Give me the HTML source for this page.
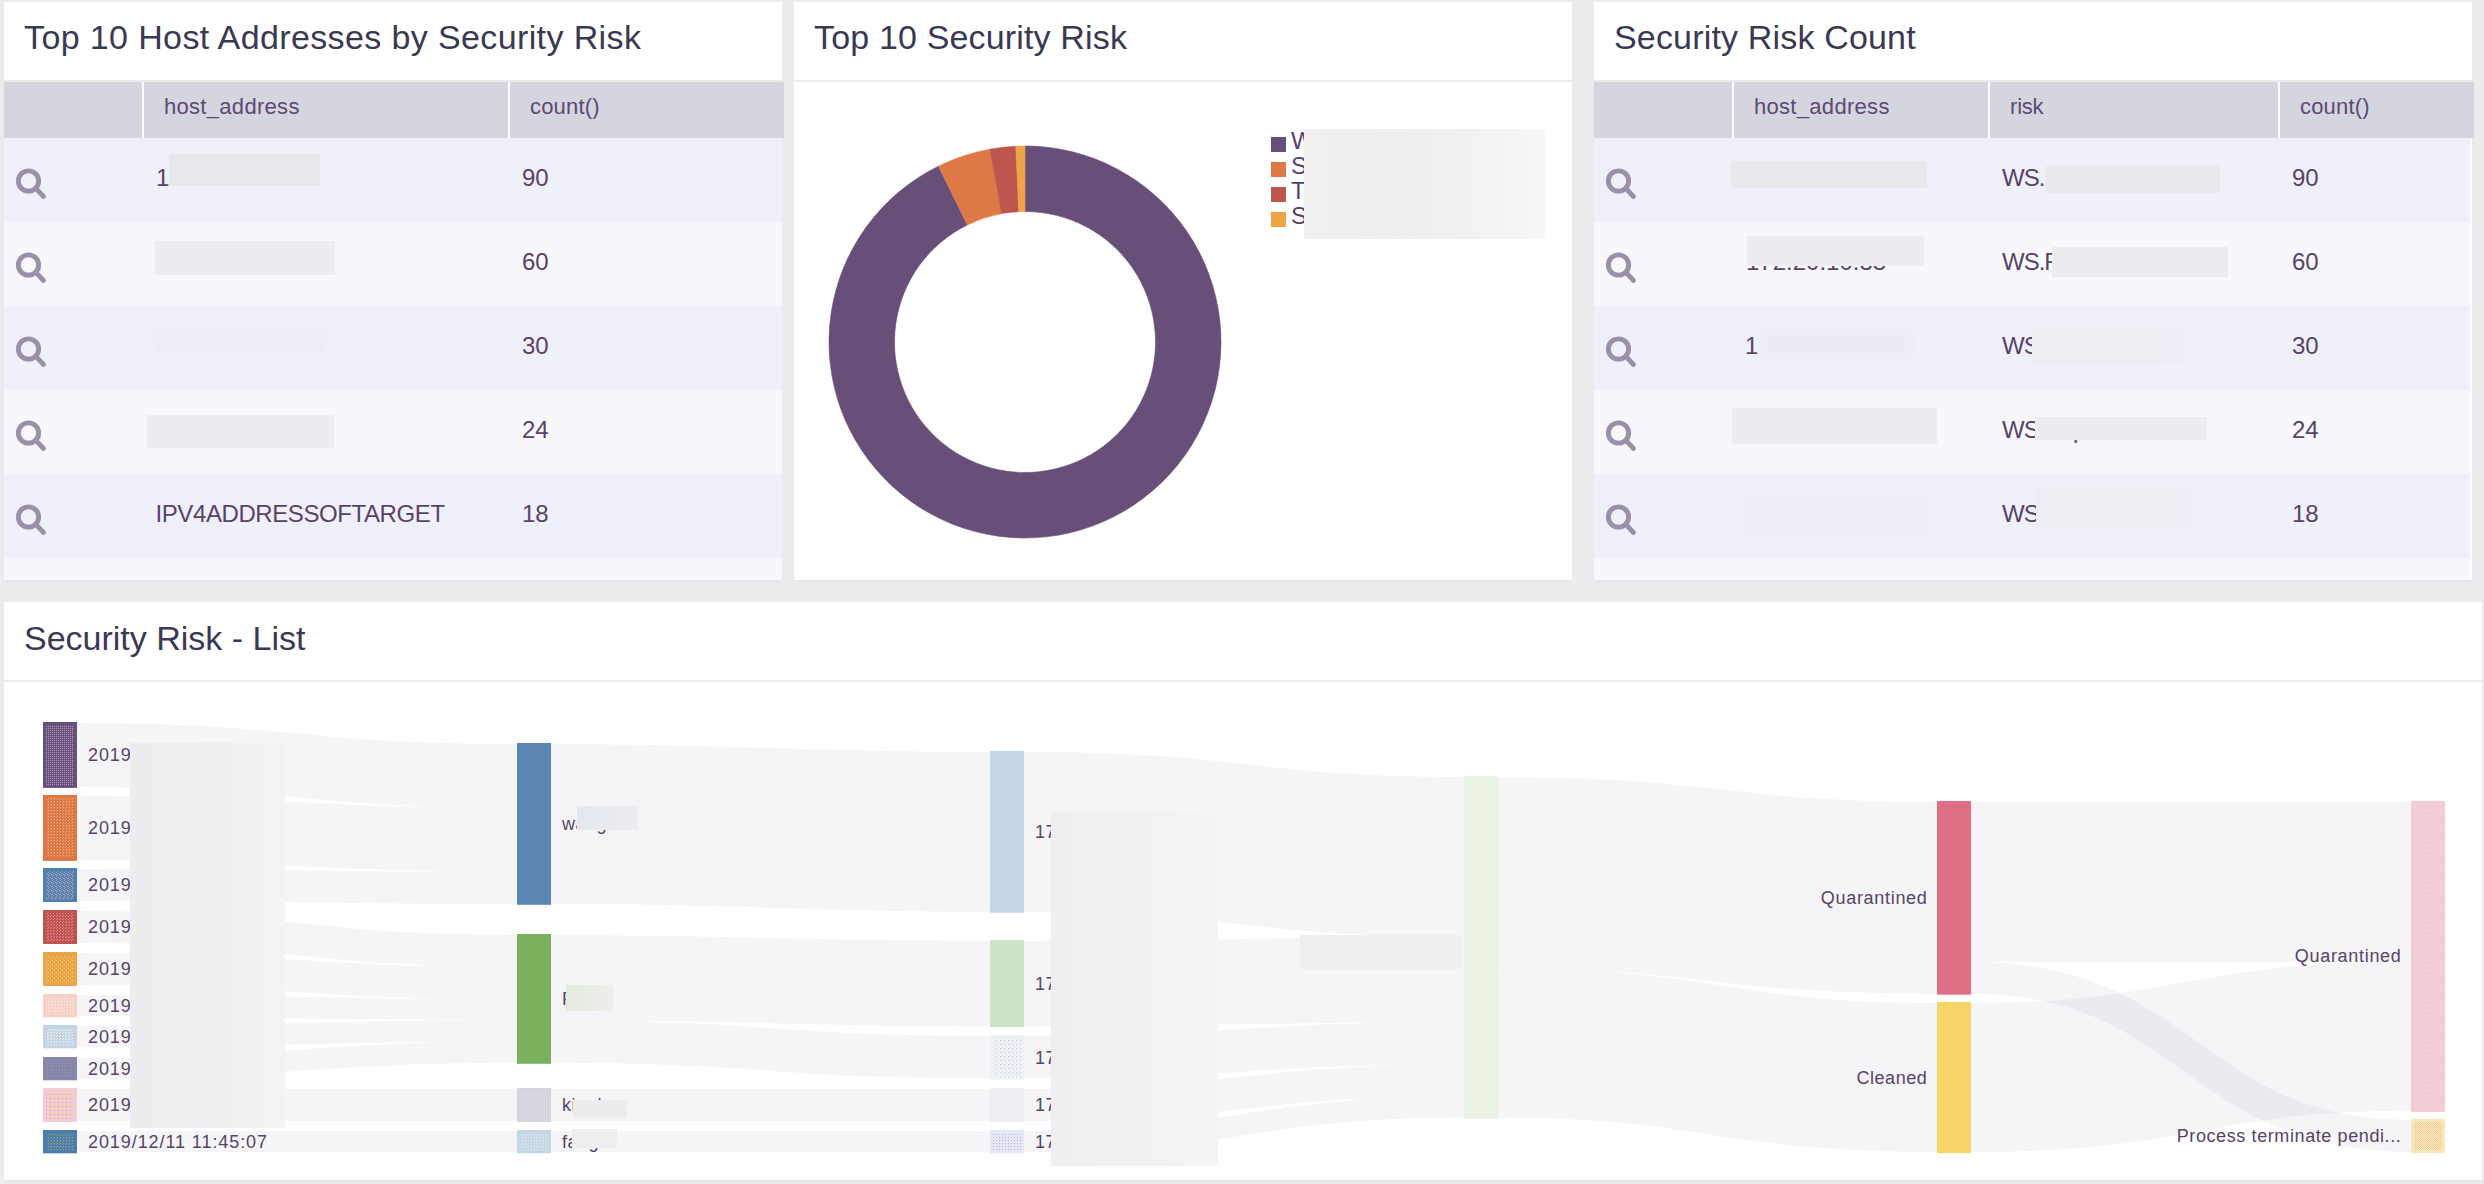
<!DOCTYPE html>
<html lang="en"><head><meta charset="utf-8"><title>Security Risk Dashboard</title>
<style>
html,body{margin:0;padding:0}
body{width:2484px;height:1184px;background:#ececee;position:relative;overflow:hidden;font-family:"Liberation Sans", Arial, sans-serif;}
.panel{position:absolute;background:#fff;box-shadow:0 2px 3px rgba(0,0,0,0.035);}
.t{position:absolute;white-space:pre;margin:0}
.ptitle{position:absolute;left:0;top:0;right:0;height:78px;border-bottom:2px solid #ececef;}
.thead{position:absolute;left:0;top:80px;height:56px;background:#d5d5df;}
.sep{position:absolute;top:0;width:2px;height:56px;background:#fff}
.row{position:absolute;left:0;height:84px}
.ra{background:#f0f0fa}
.rb{background:#f8f8fc}
.blur{position:absolute}
svg{position:absolute;left:0;top:0;overflow:visible}

</style></head><body>
<div class="panel" style="left:4px;top:2px;width:778px;height:578px;">
<div class="ptitle"></div>
<div class="t" style="left:20.0px;top:15.4px;font-size:34px;line-height:41px;color:#3a3953;letter-spacing:0.38px;">Top 10 Host Addresses by Security Risk</div>
<div class="row ra" style="top:136px;width:778px;height:84px"></div>
<div class="row rb" style="top:220px;width:778px;height:84px"></div>
<div class="row ra" style="top:304px;width:778px;height:84px"></div>
<div class="row rb" style="top:388px;width:778px;height:84px"></div>
<div class="row ra" style="top:472px;width:778px;height:84px"></div>
<div class="row rb" style="top:556px;width:778px;height:22px"></div>
<div class="thead" style="width:780px">
<div class="sep" style="left:138px"></div>
<div class="t" style="left:160.0px;top:11.6px;font-size:22px;line-height:26px;color:#5c4a72;letter-spacing:0.3px;">host_address</div>
<div class="sep" style="left:504px"></div>
<div class="t" style="left:526.0px;top:11.6px;font-size:22px;line-height:26px;color:#5c4a72;letter-spacing:0.17px;">count()</div>
</div>
<svg width="778" height="578" viewBox="0 0 778 578">
<circle cx="24.5" cy="179" r="10.15" fill="none" stroke="#9a90a9" stroke-width="4.9"/><line x1="31.68" y1="186.18" x2="39.50" y2="194.50" stroke="#9a90a9" stroke-width="4.8" stroke-linecap="round"/>
<circle cx="24.5" cy="263" r="10.15" fill="none" stroke="#9a90a9" stroke-width="4.9"/><line x1="31.68" y1="270.18" x2="39.50" y2="278.50" stroke="#9a90a9" stroke-width="4.8" stroke-linecap="round"/>
<circle cx="24.5" cy="347" r="10.15" fill="none" stroke="#9a90a9" stroke-width="4.9"/><line x1="31.68" y1="354.18" x2="39.50" y2="362.50" stroke="#9a90a9" stroke-width="4.8" stroke-linecap="round"/>
<circle cx="24.5" cy="431" r="10.15" fill="none" stroke="#9a90a9" stroke-width="4.9"/><line x1="31.68" y1="438.18" x2="39.50" y2="446.50" stroke="#9a90a9" stroke-width="4.8" stroke-linecap="round"/>
<circle cx="24.5" cy="515" r="10.15" fill="none" stroke="#9a90a9" stroke-width="4.9"/><line x1="31.68" y1="522.18" x2="39.50" y2="530.50" stroke="#9a90a9" stroke-width="4.8" stroke-linecap="round"/>
</svg>
<div class="t" style="left:152.0px;top:160.9px;font-size:24px;line-height:29px;color:#574369;letter-spacing:0px;">10.10.10.101</div>
<div class="t" style="left:518.0px;top:160.9px;font-size:24px;line-height:29px;color:#574369;letter-spacing:0px;">90</div>
<div class="t" style="left:518.0px;top:244.9px;font-size:24px;line-height:29px;color:#574369;letter-spacing:0px;">60</div>
<div class="t" style="left:518.0px;top:328.9px;font-size:24px;line-height:29px;color:#574369;letter-spacing:0px;">30</div>
<div class="t" style="left:518.0px;top:412.9px;font-size:24px;line-height:29px;color:#574369;letter-spacing:0px;">24</div>
<div class="t" style="left:151.5px;top:496.9px;font-size:24px;line-height:29px;color:#574369;letter-spacing:-0.41px;">IPV4ADDRESSOFTARGET</div>
<div class="t" style="left:518.0px;top:496.9px;font-size:24px;line-height:29px;color:#574369;letter-spacing:0px;">18</div>
<div class="blur" style="left:165.2px;top:152.0px;width:150.5px;height:31.7px;background:#e7e7ec;"></div>
<div class="blur" style="left:150.8px;top:238.9px;width:180.1px;height:34.0px;background:#ececf2;"></div>
<div class="blur" style="left:151.0px;top:323.4px;width:170.0px;height:30.3px;background:#ececf4;filter:blur(3px);opacity:.7;"></div>
<div class="blur" style="left:143.0px;top:412.8px;width:187.0px;height:33.0px;background:#ececf2;"></div>

</div>
<div class="panel" style="left:794px;top:2px;width:778px;height:578px;">
<div class="ptitle"></div>
<div class="t" style="left:20.0px;top:15.4px;font-size:34px;line-height:41px;color:#3a3953;letter-spacing:0.16px;">Top 10 Security Risk</div>
<svg width="778" height="578" viewBox="0 0 778 578">
<path d="M231.00,144.00 A196,196 0 1 1 144.46,164.14 L173.38,222.91 A130.5,130.5 0 1 0 231.00,209.50 Z" fill="#684f79" stroke="#684f79" stroke-width="0.6"/>
<path d="M144.46,164.14 A196,196 0 0 1 195.95,147.16 L207.67,211.60 A130.5,130.5 0 0 0 173.38,222.91 Z" fill="#dd7947" stroke="#dd7947" stroke-width="0.6"/>
<path d="M195.95,147.16 A196,196 0 0 1 221.77,144.22 L224.85,209.64 A130.5,130.5 0 0 0 207.67,211.60 Z" fill="#bc564f" stroke="#bc564f" stroke-width="0.6"/>
<path d="M221.77,144.22 A196,196 0 0 1 231.00,144.00 L231.00,209.50 A130.5,130.5 0 0 0 224.85,209.64 Z" fill="#eca446" stroke="#eca446" stroke-width="0.6"/>
<rect x="477" y="135.0" width="15" height="15" fill="#684f79"/>
<rect x="477" y="160.0" width="15" height="15" fill="#dd7947"/>
<rect x="477" y="185.0" width="15" height="15" fill="#bc564f"/>
<rect x="477" y="210.0" width="15" height="15" fill="#eca446"/>
</svg>
<div class="t" style="left:497.0px;top:123.6px;font-size:24px;line-height:29px;color:#574369;letter-spacing:0px;">WS.Reputation.1</div>
<div class="t" style="left:497.0px;top:148.6px;font-size:24px;line-height:29px;color:#574369;letter-spacing:0px;">SONAR.Heuristic.159</div>
<div class="t" style="left:497.0px;top:173.6px;font-size:24px;line-height:29px;color:#574369;letter-spacing:0px;">Trojan.Gen.MBT</div>
<div class="t" style="left:497.0px;top:198.6px;font-size:24px;line-height:29px;color:#574369;letter-spacing:0px;">SecurityRisk.Downldr</div>
<div class="blur" style="left:509.8px;top:127px;width:241.2px;height:109.6px;background:linear-gradient(90deg,#f0f0f1 0%,#eeeeef 40%,#f3f3f5 80%,#f7f7f9 100%);"></div>
</div>
<div class="panel" style="left:1594px;top:2px;width:878px;height:578px;">
<div class="ptitle"></div>
<div class="t" style="left:20.0px;top:15.4px;font-size:34px;line-height:41px;color:#3a3953;letter-spacing:0.17px;">Security Risk Count</div>
<div class="row ra" style="top:136px;width:876px;height:84px"></div>
<div class="row rb" style="top:220px;width:876px;height:84px"></div>
<div class="row ra" style="top:304px;width:876px;height:84px"></div>
<div class="row rb" style="top:388px;width:876px;height:84px"></div>
<div class="row ra" style="top:472px;width:876px;height:84px"></div>
<div class="row rb" style="top:556px;width:876px;height:22px"></div>
<div class="thead" style="width:880px">
<div class="sep" style="left:138px"></div>
<div class="t" style="left:160.0px;top:11.6px;font-size:22px;line-height:26px;color:#5c4a72;letter-spacing:0.3px;">host_address</div>
<div class="sep" style="left:394px"></div>
<div class="t" style="left:416.0px;top:11.6px;font-size:22px;line-height:26px;color:#5c4a72;letter-spacing:-0.2px;">risk</div>
<div class="sep" style="left:684px"></div>
<div class="t" style="left:706.0px;top:11.6px;font-size:22px;line-height:26px;color:#5c4a72;letter-spacing:0.17px;">count()</div>
</div>
<svg width="878" height="578" viewBox="0 0 878 578">
<circle cx="24.5" cy="179" r="10.15" fill="none" stroke="#9a90a9" stroke-width="4.9"/><line x1="31.68" y1="186.18" x2="39.50" y2="194.50" stroke="#9a90a9" stroke-width="4.8" stroke-linecap="round"/>
<circle cx="24.5" cy="263" r="10.15" fill="none" stroke="#9a90a9" stroke-width="4.9"/><line x1="31.68" y1="270.18" x2="39.50" y2="278.50" stroke="#9a90a9" stroke-width="4.8" stroke-linecap="round"/>
<circle cx="24.5" cy="347" r="10.15" fill="none" stroke="#9a90a9" stroke-width="4.9"/><line x1="31.68" y1="354.18" x2="39.50" y2="362.50" stroke="#9a90a9" stroke-width="4.8" stroke-linecap="round"/>
<circle cx="24.5" cy="431" r="10.15" fill="none" stroke="#9a90a9" stroke-width="4.9"/><line x1="31.68" y1="438.18" x2="39.50" y2="446.50" stroke="#9a90a9" stroke-width="4.8" stroke-linecap="round"/>
<circle cx="24.5" cy="515" r="10.15" fill="none" stroke="#9a90a9" stroke-width="4.9"/><line x1="31.68" y1="522.18" x2="39.50" y2="530.50" stroke="#9a90a9" stroke-width="4.8" stroke-linecap="round"/>
</svg>
<div class="t" style="left:408.0px;top:160.9px;font-size:24px;line-height:29px;color:#574369;letter-spacing:-1.0px;">WS.Reputation.1</div>
<div class="t" style="left:698.0px;top:160.9px;font-size:24px;line-height:29px;color:#574369;letter-spacing:0px;">90</div>
<div class="t" style="left:152.0px;top:244.9px;font-size:24px;line-height:29px;color:#574369;letter-spacing:0px;">172.20.10.33</div>
<div class="t" style="left:408.0px;top:244.9px;font-size:24px;line-height:29px;color:#574369;letter-spacing:-1.0px;">WS.Reputation.1</div>
<div class="t" style="left:698.0px;top:244.9px;font-size:24px;line-height:29px;color:#574369;letter-spacing:0px;">60</div>
<div class="t" style="left:151.0px;top:328.9px;font-size:24px;line-height:29px;color:#574369;letter-spacing:0px;">1</div>
<div class="t" style="left:408.0px;top:328.9px;font-size:24px;line-height:29px;color:#574369;letter-spacing:-1.0px;">WS.Reputation.1</div>
<div class="t" style="left:698.0px;top:328.9px;font-size:24px;line-height:29px;color:#574369;letter-spacing:0px;">30</div>
<div class="t" style="left:408.0px;top:412.9px;font-size:24px;line-height:29px;color:#574369;letter-spacing:-1.0px;">WS.Reputation.1</div>
<div class="t" style="left:698.0px;top:412.9px;font-size:24px;line-height:29px;color:#574369;letter-spacing:0px;">24</div>
<div class="t" style="left:408.0px;top:496.9px;font-size:24px;line-height:29px;color:#574369;letter-spacing:-1.0px;">WS.Reputation.1</div>
<div class="t" style="left:698.0px;top:496.9px;font-size:24px;line-height:29px;color:#574369;letter-spacing:0px;">18</div>
<div class="blur" style="left:136.9px;top:159.0px;width:196.1px;height:27.0px;background:#e8e8ed;"></div>
<div class="blur" style="left:452.0px;top:164.2px;width:173.8px;height:26.6px;background:#e8e8ed;"></div>
<div class="blur" style="left:153.0px;top:233.8px;width:177.0px;height:30.7px;background:#ececf2;"></div>
<div class="blur" style="left:458.0px;top:245.0px;width:176.0px;height:29.6px;background:#ebebf0;"></div>
<div class="blur" style="left:166.0px;top:329.4px;width:155.0px;height:25.4px;background:#ececf4;filter:blur(3px);opacity:.8;"></div>
<div class="blur" style="left:438.0px;top:325.8px;width:182.0px;height:36.2px;background:linear-gradient(90deg,#ededf4 0%,#ededf4 70%,#f0f0fa 100%);"></div>
<div class="blur" style="left:138.0px;top:406.2px;width:205.0px;height:35.5px;background:#ececf2;"></div>
<div class="blur" style="left:440.5px;top:414.7px;width:172.3px;height:22.9px;background:#ececf1;"></div>
<div class="blur" style="left:147.0px;top:493.6px;width:190.0px;height:38.7px;background:#ededf5;filter:blur(4px);opacity:.8;"></div>
<div class="blur" style="left:442.2px;top:486.0px;width:181.0px;height:40.3px;background:linear-gradient(90deg,#ededf4 0%,#ededf4 70%,#f0f0fa 100%);"></div>

</div>
<div class="panel" style="left:4px;top:602px;width:2478px;height:578px;">
<div class="ptitle"></div>
<div class="t" style="left:20.0px;top:15.5px;font-size:34px;line-height:41px;color:#3a3953;letter-spacing:0px;">Security Risk - List</div>
<svg width="2478" height="578" viewBox="4 602 2478 578">
<path d="M76,755.0 C297.0,755.0 297.0,776.0 518,776.0" fill="none" stroke="rgba(50,50,90,0.05)" stroke-width="63.9"/>
<path d="M76,828.0 C297.0,828.0 297.0,839.9 518,839.9" fill="none" stroke="rgba(50,50,90,0.05)" stroke-width="63.9"/>
<path d="M76,885.0 C297.0,885.0 297.0,887.8 518,887.8" fill="none" stroke="rgba(50,50,90,0.05)" stroke-width="32.0"/>
<path d="M76,927.0 C297.0,927.0 297.0,951.0 518,951.0" fill="none" stroke="rgba(50,50,90,0.05)" stroke-width="32.0"/>
<path d="M76,969.0 C297.0,969.0 297.0,982.9 518,982.9" fill="none" stroke="rgba(50,50,90,0.05)" stroke-width="32.0"/>
<path d="M76,1005.6 C297.0,1005.6 297.0,1009.5 518,1009.5" fill="none" stroke="rgba(50,50,90,0.05)" stroke-width="21.3"/>
<path d="M76,1036.7 C297.0,1036.7 297.0,1030.9 518,1030.9" fill="none" stroke="rgba(50,50,90,0.05)" stroke-width="21.3"/>
<path d="M76,1068.7 C297.0,1068.7 297.0,1052.2 518,1052.2" fill="none" stroke="rgba(50,50,90,0.05)" stroke-width="21.3"/>
<path d="M76,1105.0 C297.0,1105.0 297.0,1105.0 518,1105.0" fill="none" stroke="rgba(50,50,90,0.05)" stroke-width="32.0"/>
<path d="M76,1141.7 C297.0,1141.7 297.0,1141.7 518,1141.7" fill="none" stroke="rgba(50,50,90,0.05)" stroke-width="21.3"/>
<path d="M550,823.9 C770.5,823.9 770.5,831.9 991,831.9" fill="none" stroke="rgba(50,50,90,0.05)" stroke-width="159.8"/>
<path d="M550,977.6 C770.5,977.6 770.5,983.6 991,983.6" fill="none" stroke="rgba(50,50,90,0.05)" stroke-width="85.2"/>
<path d="M550,1041.5 C770.5,1041.5 770.5,1057.3 991,1057.3" fill="none" stroke="rgba(50,50,90,0.05)" stroke-width="42.6"/>
<path d="M550,1105.0 C770.5,1105.0 770.5,1105.0 991,1105.0" fill="none" stroke="rgba(50,50,90,0.05)" stroke-width="32.0"/>
<path d="M550,1141.7 C770.5,1141.7 770.5,1141.7 991,1141.7" fill="none" stroke="rgba(50,50,90,0.05)" stroke-width="21.3"/>
<path d="M1023,831.9 C1244.0,831.9 1244.0,856.9 1465,856.9" fill="none" stroke="rgba(50,50,90,0.05)" stroke-width="159.8"/>
<path d="M1023,983.6 C1244.0,983.6 1244.0,979.4 1465,979.4" fill="none" stroke="rgba(50,50,90,0.05)" stroke-width="85.2"/>
<path d="M1023,1057.3 C1244.0,1057.3 1244.0,1043.2 1465,1043.2" fill="none" stroke="rgba(50,50,90,0.05)" stroke-width="42.6"/>
<path d="M1023,1105.0 C1244.0,1105.0 1244.0,1080.5 1465,1080.5" fill="none" stroke="rgba(50,50,90,0.05)" stroke-width="32.0"/>
<path d="M1023,1141.7 C1244.0,1141.7 1244.0,1107.2 1465,1107.2" fill="none" stroke="rgba(50,50,90,0.05)" stroke-width="21.3"/>
<path d="M1497,872.9 C1717.5,872.9 1717.5,897.9 1938,897.9" fill="none" stroke="rgba(50,50,90,0.05)" stroke-width="191.7"/>
<path d="M1497,1043.2 C1717.5,1043.2 1717.5,1077.5 1938,1077.5" fill="none" stroke="rgba(50,50,90,0.05)" stroke-width="149.1"/>
<path d="M1970,881.9 C2191.0,881.9 2191.0,881.9 2412,881.9" fill="none" stroke="rgba(50,50,90,0.05)" stroke-width="159.8"/>
<path d="M1970,977.7 C2191.0,977.7 2191.0,1136.0 2412,1136.0" fill="none" stroke="rgba(50,50,90,0.05)" stroke-width="32.0"/>
<path d="M1970,1077.5 C2191.0,1077.5 2191.0,1036.3 2412,1036.3" fill="none" stroke="rgba(50,50,90,0.05)" stroke-width="149.1"/>
<defs>
<pattern id="p_a" width="2" height="2" patternUnits="userSpaceOnUse"><rect x="0" y="0" width="1" height="1" fill="#b3a5c2"/></pattern>
<pattern id="p_b" width="3" height="3" patternUnits="userSpaceOnUse"><rect x="0" y="0" width="1" height="1" fill="#f3c05a"/><rect x="2" y="1" width="1" height="1" fill="#ee86a6"/></pattern>
<pattern id="p_c" width="4" height="4" patternUnits="userSpaceOnUse"><rect x="0" y="0" width="1" height="1" fill="#b79fae"/><rect x="2" y="1" width="1" height="1" fill="#b79fae"/><rect x="1" y="3" width="1" height="1" fill="#a9a0b8"/><rect x="3" y="2" width="1" height="1" fill="#b79fae"/><rect x="0" y="2" width="1" height="1" fill="#a9a0b8"/></pattern>
<pattern id="p_d" width="3" height="3" patternUnits="userSpaceOnUse"><rect x="0" y="0" width="1" height="1" fill="#ef84a0"/><rect x="2" y="1" width="1" height="1" fill="#ef84a0"/></pattern>
<pattern id="p_e" width="4" height="4" patternUnits="userSpaceOnUse"><rect x="0" y="0" width="1" height="1" fill="#f8dc50"/><rect x="2" y="2" width="1" height="1" fill="#f8dc50"/><rect x="3" y="0" width="1" height="1" fill="#f09a70"/></pattern>
<pattern id="p_f" width="3" height="3" patternUnits="userSpaceOnUse"><rect x="0" y="0" width="1" height="1" fill="#fbe9c8"/><rect x="1" y="2" width="1" height="1" fill="#fdf3ee"/></pattern>
<pattern id="p_g" width="3" height="3" patternUnits="userSpaceOnUse"><rect x="0" y="0" width="1" height="1" fill="#eef3f8"/><rect x="2" y="1" width="1" height="1" fill="#f4f2d8"/></pattern>
<pattern id="p_h" width="3" height="3" patternUnits="userSpaceOnUse"><rect x="0" y="0" width="1" height="1" fill="#5f86bd"/><rect x="2" y="1" width="1" height="1" fill="#a08fb0"/></pattern>
<pattern id="p_i" width="4" height="4" patternUnits="userSpaceOnUse"><rect x="0" y="0" width="1" height="1" fill="#f8dc70"/><rect x="2" y="2" width="1" height="1" fill="#b9a8d0"/></pattern>
<pattern id="p_j" width="3" height="3" patternUnits="userSpaceOnUse"><rect x="0" y="0" width="1" height="1" fill="#7fc46a"/><rect x="2" y="1" width="1" height="1" fill="#8d86b0"/></pattern>
<pattern id="p_u3" width="4" height="4" patternUnits="userSpaceOnUse"><rect x="0" y="0" width="1" height="1" fill="#ececf4"/><rect x="2" y="2" width="1" height="1" fill="#ececf4"/></pattern>
<pattern id="p_u4" width="3" height="3" patternUnits="userSpaceOnUse"><rect x="0" y="0" width="1" height="1" fill="#e9f1f3"/><rect x="2" y="1" width="1" height="1" fill="#dbe9e4"/></pattern>
<pattern id="p_h3" width="4" height="4" patternUnits="userSpaceOnUse"><rect x="0" y="0" width="1" height="1" fill="#b9c6e4"/><rect x="2" y="2" width="1" height="1" fill="#cfe0d4"/></pattern>
<pattern id="p_h5" width="3" height="3" patternUnits="userSpaceOnUse"><rect x="0" y="0" width="1" height="1" fill="#aab4e6"/></pattern>
<pattern id="p_q2" width="5" height="5" patternUnits="userSpaceOnUse"><rect x="0" y="0" width="1" height="1" fill="#f8dfe3"/></pattern>
<pattern id="p_pt" width="2" height="2" patternUnits="userSpaceOnUse"><rect x="0" y="0" width="1" height="1" fill="#f5d672"/><rect x="1" y="1" width="1" height="1" fill="#f3c3cc"/></pattern>
</defs>
<rect x="43" y="722.0" width="34" height="65.9" fill="#694f7b"/>
<rect x="46" y="725.0" width="28" height="59.9" fill="url(#p_a)"/>
<rect x="43" y="795.0" width="34" height="65.9" fill="#dd7845"/>
<rect x="46" y="798.0" width="28" height="59.9" fill="url(#p_b)"/>
<rect x="43" y="868.0" width="34" height="34.0" fill="#4f80b0"/>
<rect x="46" y="871.0" width="28" height="28.0" fill="url(#p_c)"/>
<rect x="43" y="910.0" width="34" height="34.0" fill="#bc564f"/>
<rect x="46" y="913.0" width="28" height="28.0" fill="url(#p_d)"/>
<rect x="43" y="952.0" width="34" height="34.0" fill="#eaa54a"/>
<rect x="46" y="955.0" width="28" height="28.0" fill="url(#p_e)"/>
<rect x="43" y="994.0" width="34" height="23.3" fill="#f6cfc8"/>
<rect x="46" y="997.0" width="28" height="17.3" fill="url(#p_f)"/>
<rect x="43" y="1025.0" width="34" height="23.3" fill="#c3d4e6"/>
<rect x="46" y="1028.0" width="28" height="17.3" fill="url(#p_g)"/>
<rect x="43" y="1057.0" width="34" height="23.3" fill="#8a86a8"/>
<rect x="46" y="1060.0" width="28" height="17.3" fill="url(#p_h)"/>
<rect x="43" y="1088.0" width="34" height="34.0" fill="#f4cbd0"/>
<rect x="46" y="1091.0" width="28" height="28.0" fill="url(#p_i)"/>
<rect x="43" y="1130.0" width="34" height="23.3" fill="#4e7dab"/>
<rect x="46" y="1133.0" width="28" height="17.3" fill="url(#p_j)"/>
<rect x="517" y="743.0" width="34" height="161.8" fill="#5b86b4"/>
<rect x="517" y="934.0" width="34" height="129.8" fill="#79b15d"/>
<rect x="517" y="1088.0" width="34" height="34.0" fill="#d4d4de"/>
<rect x="520" y="1091.0" width="28" height="28.0" fill="url(#p_u3)"/>
<rect x="517" y="1130.0" width="34" height="23.3" fill="#c3d7e4"/>
<rect x="520" y="1133.0" width="28" height="17.3" fill="url(#p_u4)"/>
<rect x="990" y="751.0" width="34" height="161.8" fill="#c4d5e6"/>
<rect x="990" y="940.0" width="34" height="87.2" fill="#cfe4c5"/>
<rect x="990" y="1035.0" width="34" height="44.6" fill="#eef1f5"/>
<rect x="993" y="1038.0" width="28" height="38.6" fill="url(#p_h3)"/>
<rect x="990" y="1088.0" width="34" height="34.0" fill="#ededf2"/>
<rect x="990" y="1130.0" width="34" height="23.3" fill="#e6e8f6"/>
<rect x="993" y="1133.0" width="28" height="17.3" fill="url(#p_h5)"/>
<rect x="1464" y="776.0" width="34" height="342.8" fill="#eaf2e3"/>
<rect x="1937" y="801.0" width="34" height="193.7" fill="#de6f85"/>
<rect x="1937" y="1002.0" width="34" height="151.1" fill="#f8d466"/>
<rect x="2411" y="801.0" width="34" height="310.9" fill="#f3ccd3"/>
<rect x="2414" y="804.0" width="28" height="304.9" fill="url(#p_q2)"/>
<rect x="2411" y="1119.0" width="34" height="34.0" fill="#f8e7b8"/>
<rect x="2414" y="1122.0" width="28" height="28.0" fill="url(#p_pt)"/>
</svg>
<div class="t" style="left:84.0px;top:142.1px;font-size:18px;line-height:22px;color:#574369;letter-spacing:0.92px;">2019/12/11 14:02:51</div>
<div class="t" style="left:84.0px;top:215.1px;font-size:18px;line-height:22px;color:#574369;letter-spacing:0.92px;">2019/12/11 13:58:20</div>
<div class="t" style="left:84.0px;top:272.1px;font-size:18px;line-height:22px;color:#574369;letter-spacing:0.92px;">2019/12/11 13:41:09</div>
<div class="t" style="left:84.0px;top:314.1px;font-size:18px;line-height:22px;color:#574369;letter-spacing:0.92px;">2019/12/11 13:20:44</div>
<div class="t" style="left:84.0px;top:356.1px;font-size:18px;line-height:22px;color:#574369;letter-spacing:0.92px;">2019/12/11 12:57:31</div>
<div class="t" style="left:84.0px;top:392.8px;font-size:18px;line-height:22px;color:#574369;letter-spacing:0.92px;">2019/12/11 12:40:18</div>
<div class="t" style="left:84.0px;top:423.8px;font-size:18px;line-height:22px;color:#574369;letter-spacing:0.92px;">2019/12/11 12:22:05</div>
<div class="t" style="left:84.0px;top:455.8px;font-size:18px;line-height:22px;color:#574369;letter-spacing:0.92px;">2019/12/11 12:03:47</div>
<div class="t" style="left:84.0px;top:492.1px;font-size:18px;line-height:22px;color:#574369;letter-spacing:0.92px;">2019/12/11 11:52:36</div>
<div class="t" style="left:84.0px;top:528.8px;font-size:18px;line-height:22px;color:#574369;letter-spacing:0.92px;">2019/12/11 11:45:07</div>
<div class="t" style="left:558.0px;top:211.0px;font-size:18px;line-height:22px;color:#574369;letter-spacing:0.5px;">wanglei</div>
<div class="t" style="left:558.0px;top:386.1px;font-size:18px;line-height:22px;color:#574369;letter-spacing:0.5px;">Fang</div>
<div class="t" style="left:558.0px;top:492.1px;font-size:18px;line-height:22px;color:#574369;letter-spacing:0.5px;">kimdo</div>
<div class="t" style="left:558.0px;top:528.8px;font-size:18px;line-height:22px;color:#574369;letter-spacing:0.5px;">fang</div>
<div class="t" style="left:1031.0px;top:219.0px;font-size:18px;line-height:22px;color:#574369;letter-spacing:0.5px;">172.20.10.33</div>
<div class="t" style="left:1031.0px;top:370.8px;font-size:18px;line-height:22px;color:#574369;letter-spacing:0.5px;">172.20.10.33</div>
<div class="t" style="left:1031.0px;top:444.5px;font-size:18px;line-height:22px;color:#574369;letter-spacing:0.5px;">172.20.10.33</div>
<div class="t" style="left:1031.0px;top:492.1px;font-size:18px;line-height:22px;color:#574369;letter-spacing:0.5px;">172.20.10.33</div>
<div class="t" style="left:1031.0px;top:528.8px;font-size:18px;line-height:22px;color:#574369;letter-spacing:0.5px;">172.20.10.33</div>
<div class="t" style="right:1027.7px;top:334.6px;font-size:18px;line-height:22px;color:#574369;letter-spacing:0.5px;">WS.Reputation.1</div>
<div class="t" style="right:554.5px;top:285.0px;font-size:18px;line-height:22px;color:#574369;letter-spacing:0.69px;">Quarantined</div>
<div class="t" style="right:554.7px;top:464.7px;font-size:18px;line-height:22px;color:#574369;letter-spacing:0.54px;">Cleaned</div>
<div class="t" style="right:80.5px;top:342.9px;font-size:18px;line-height:22px;color:#574369;letter-spacing:0.69px;">Quarantined</div>
<div class="t" style="right:80.6px;top:523.1px;font-size:18px;line-height:22px;color:#574369;letter-spacing:0.6px;">Process terminate pendi...</div>
<div class="blur" style="left:126.0px;top:141.0px;width:155.0px;height:385.0px;background:linear-gradient(90deg,#ededef 0%,#efeff1 60%,#f3f3f5 100%);"></div>
<div class="blur" style="left:573.0px;top:204.0px;width:61.0px;height:24.3px;background:linear-gradient(90deg,#e2e8f0 0%,#e8eaef 45%,#ededf0 100%);"></div>
<div class="blur" style="left:562.0px;top:383.2px;width:47.0px;height:25.7px;background:linear-gradient(90deg,#e4ebde 0%,#e9ede5 55%,#eeefec 100%);"></div>
<div class="blur" style="left:569.0px;top:497.8px;width:54.0px;height:18.0px;background:#ededf0;"></div>
<div class="blur" style="left:568.0px;top:527.0px;width:45.0px;height:18.6px;background:#eeeef1;"></div>
<div class="blur" style="left:1047.0px;top:210.0px;width:167.0px;height:354.0px;background:linear-gradient(90deg,#efeff1 0%,#f1f1f3 50%,#f4f4f7 100%);"></div>
<div class="blur" style="left:1296.0px;top:333.0px;width:162.0px;height:34.0px;background:#efeff1;"></div>
</div>
</body></html>
